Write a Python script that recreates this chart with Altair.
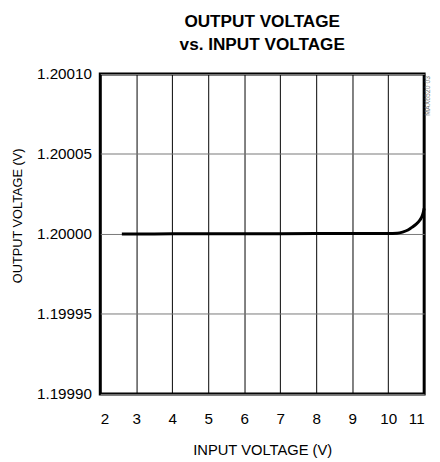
import altair as alt
import pandas as pd

# Data
vin = [2.6, 3.0, 4.0, 5.0, 6.0, 7.0, 8.0, 9.0, 10.0, 10.25, 10.4, 10.55, 10.67, 10.78, 10.86, 10.93, 10.97, 11.0]
vout = [1.2000000, 1.2000000, 1.2000001, 1.2000001, 1.2000002, 1.2000002, 1.2000003, 1.2000003, 1.2000003,
        1.2000005, 1.2000012, 1.2000025, 1.2000043, 1.2000062, 1.2000080, 1.2000105, 1.2000130, 1.2000160]
x_ticks = [2, 3, 4, 5, 6, 7, 8, 9, 10, 11]
y_ticks = [1.19990, 1.19995, 1.20000, 1.20005, 1.20010]
title_lines = ["OUTPUT VOLTAGE", "vs. INPUT VOLTAGE"]
side_note = ["MAX6520 03"]

df = pd.DataFrame({"vin": vin, "vout": vout})
FONT = "Liberation Sans, Arial, sans-serif"

line = alt.Chart(df).mark_line(color="black", strokeWidth=3, interpolate="monotone").encode(
    x=alt.X("vin:Q", scale=alt.Scale(domain=[2, 11], nice=False, zero=False),
            axis=alt.Axis(values=x_ticks, title="INPUT VOLTAGE (V)", grid=True, gridColor="black",
                          gridWidth=1, gridOpacity=1, domain=False, ticks=False, labelPadding=18,
                          labelFontSize=15.5, labelFont=FONT, labelColor="black", titleFont=FONT,
                          titleFontSize=15, titleFontWeight="normal", titleColor="black",
                          titlePadding=16, format="d")),
    y=alt.Y("vout:Q", scale=alt.Scale(domain=[1.19990, 1.20010], nice=False, zero=False),
            axis=alt.Axis(values=y_ticks, title="OUTPUT VOLTAGE (V)", grid=True, gridColor="#777777",
                          gridWidth=1, gridOpacity=1, domain=False, ticks=False, labelPadding=9,
                          labelFontSize=15.5, labelFont=FONT, labelColor="black", titleFont=FONT,
                          titleFontSize=13, titleFontWeight="normal", titleColor="black",
                          titlePadding=12, titleY=144, format=".5f")),
)

note = alt.Chart(pd.DataFrame({"t": side_note})).mark_text(
    angle=270, fontSize=7, color="#777777", font=FONT, align="right", baseline="middle"
).encode(x=alt.value(334), y=alt.value(2), text="t:N")

chart = alt.layer(line, note).properties(
    width=330, height=326,
    title=alt.TitleParams(title_lines, anchor="middle", font=FONT, fontSize=17.5, fontWeight="bold",
                          color="black", lineHeight=23, offset=14),
    autosize=alt.AutoSizeParams(type="none"),
    padding={"left": 94, "top": 63, "right": 8, "bottom": 62},
).configure_view(stroke="black", strokeWidth=3)

chart.save("out.html", embed_options={"renderer": "svg", "actions": False})
